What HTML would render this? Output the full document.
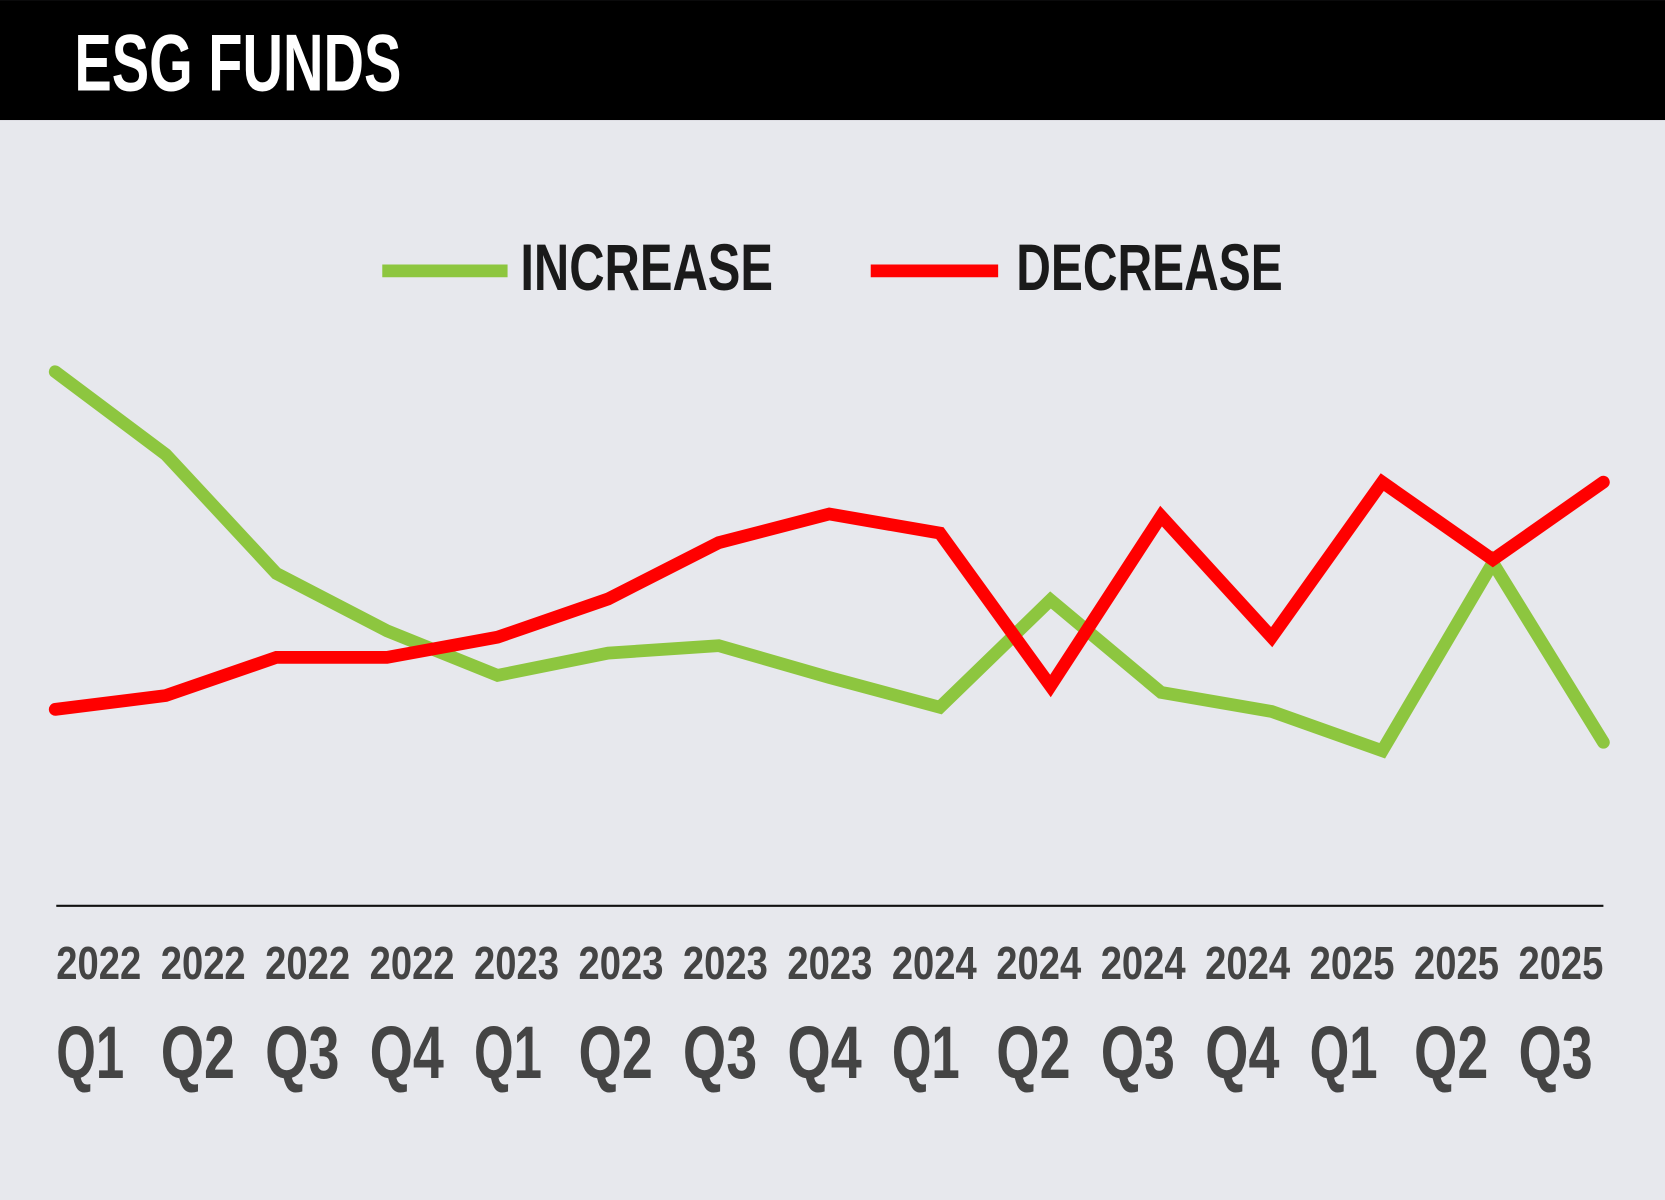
<!DOCTYPE html>
<html><head><meta charset="utf-8"><style>
html,body{margin:0;padding:0;background:#e7e8ed;}
svg{display:block;}
text{font-family:"Liberation Sans Narrow","Liberation Sans",sans-serif;font-weight:bold;}
</style></head><body>
<svg width="1665" height="1200" viewBox="0 0 1568 1130" xmlns="http://www.w3.org/2000/svg">
<rect x="0" y="0" width="1568" height="1130" fill="#e7e8ed"/>
<rect x="0" y="0" width="1568" height="113" fill="#000"/>
<text x="70" y="85" font-size="76" fill="#fff" textLength="308" lengthAdjust="spacingAndGlyphs">ESG FUNDS</text>
<g>
<line x1="360" y1="255" x2="478" y2="255" stroke="#8dc63f" stroke-width="12"/>
<text x="490" y="273" font-size="62" fill="#1a1a1a" textLength="238" lengthAdjust="spacingAndGlyphs">INCREASE</text>
<line x1="820" y1="255" x2="940" y2="255" stroke="#ff0000" stroke-width="12"/>
<text x="957" y="273" font-size="62" fill="#1a1a1a" textLength="251" lengthAdjust="spacingAndGlyphs">DECREASE</text>
</g>
<line x1="53" y1="853" x2="1510" y2="853" stroke="#111" stroke-width="2"/>
<g id="plot"></g>
<g id="labels"></g>
</svg>
<script>
const years = ["2022","2022","2022","2022","2023","2023","2023","2023","2024","2024","2024","2024","2025","2025","2025"];
const quarters = ["Q1","Q2","Q3","Q4","Q1","Q2","Q3","Q4","Q1","Q2","Q3","Q4","Q1","Q2","Q3"];
const increaseValues = [100.6,85,62.6,51.8,43.4,47.6,49,43,37.4,57.6,40.2,36.6,29.2,64.6,30.8];
const decreaseValues = [37,39.6,46.8,46.8,50.6,57.8,68.4,73.8,70.2,41.4,73.4,50.6,79.8,65.2,79.8];

const NS = "http://www.w3.org/2000/svg";
const xPlot = i => 52 + i * (1510 - 52) / (years.length - 1);
const yPlot = v => 853 - v * 5;
const xLabel = i => 53 + i * (1430 - 53) / (years.length - 1);

const plot = document.getElementById('plot');
function drawSeries(vals, color, name) {
  const p = document.createElementNS(NS, 'polyline');
  p.setAttribute('points', vals.map((v, i) => xPlot(i) + ',' + yPlot(v)).join(' '));
  p.setAttribute('fill', 'none');
  p.setAttribute('stroke', color);
  p.setAttribute('stroke-width', '12');
  p.setAttribute('stroke-linecap', 'round');
  p.setAttribute('stroke-linejoin', 'miter');
  
  
  plot.appendChild(p);
}
drawSeries(increaseValues, '#8dc63f', 'increase-line');
drawSeries(decreaseValues, '#ff0000', 'decrease-line');

const labels = document.getElementById('labels');
years.forEach((y, i) => {
  const t = document.createElementNS(NS, 'text');
  t.setAttribute('x', xLabel(i));
  t.setAttribute('y', 922);
  t.setAttribute('font-size', '44');
  t.setAttribute('fill', '#444');
  t.setAttribute('textLength', '80');
  t.setAttribute('lengthAdjust', 'spacingAndGlyphs');
  t.textContent = y;
  
  
  labels.appendChild(t);
  const q = document.createElementNS(NS, 'text');
  q.setAttribute('x', xLabel(i));
  q.setAttribute('y', 1015);
  q.setAttribute('font-size', '70');
  q.setAttribute('fill', '#444');
  q.setAttribute('textLength', quarters[i] === 'Q1' ? '64' : '70');
  q.setAttribute('lengthAdjust', 'spacingAndGlyphs');
  q.textContent = quarters[i];
  
  
  labels.appendChild(q);
});
</script>
</body></html>
